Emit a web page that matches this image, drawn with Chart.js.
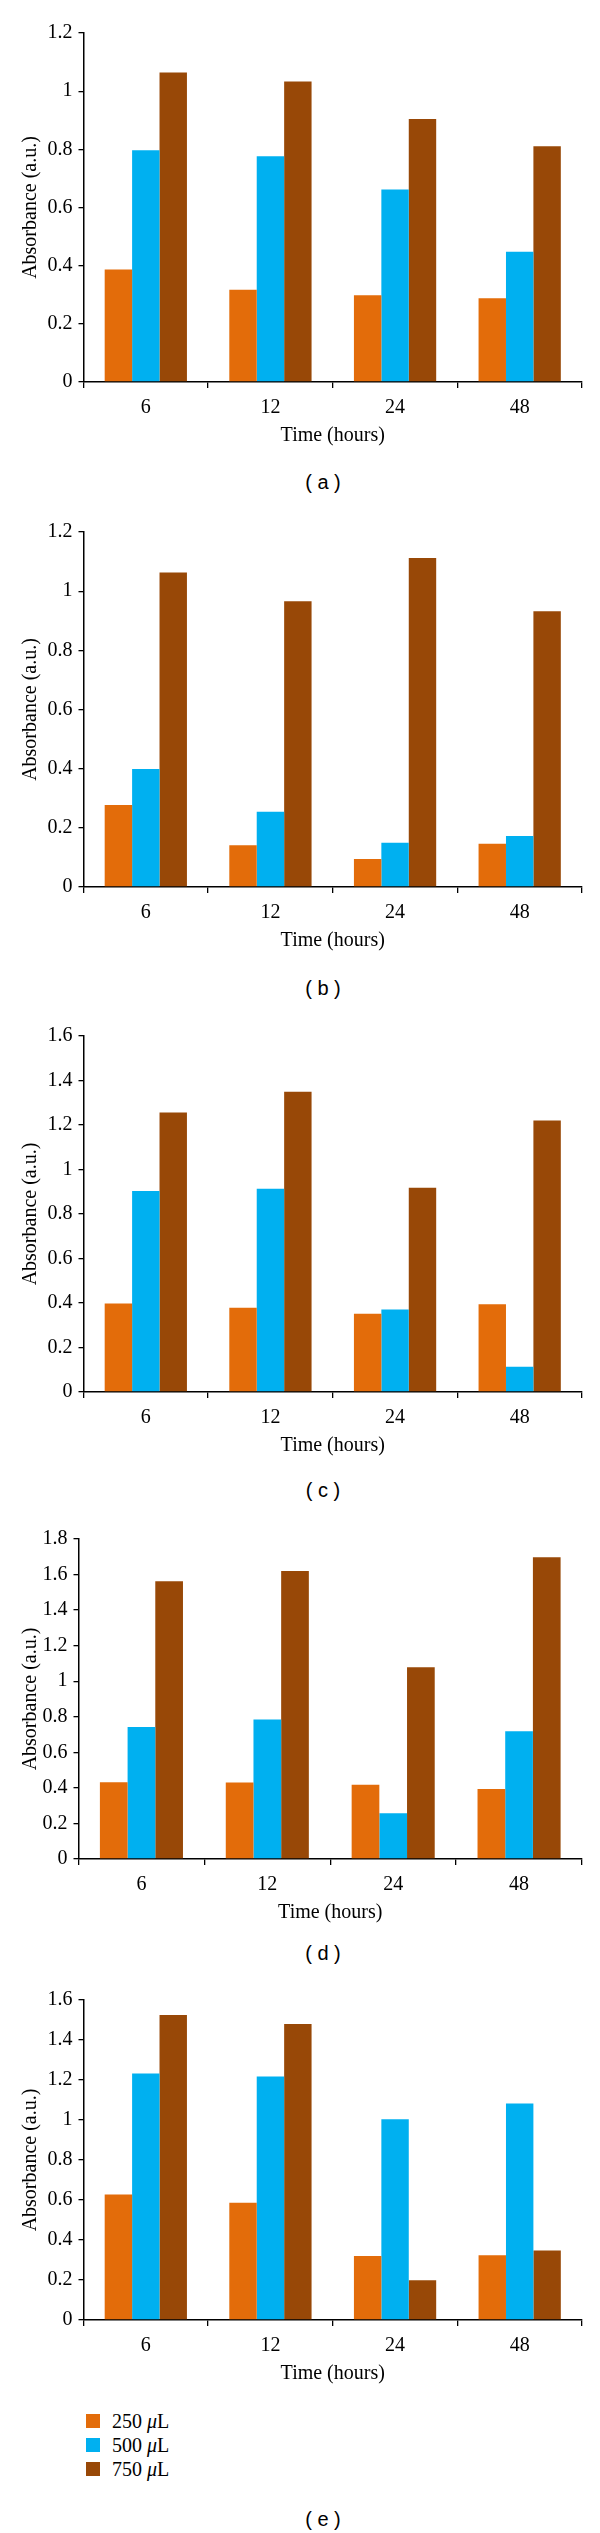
<!DOCTYPE html>
<html lang="en">
<head>
<meta charset="UTF-8">
<title>Absorbance vs time</title>
<script src="https://cdn.jsdelivr.net/npm/chart.js"></script>
<style>
body {
  margin: 0; padding: 0;
  background: #fff;
  width: 600px; height: 2533px;
  position: relative;
  overflow: hidden;
}
.panel { position: absolute; left: 0; width: 600px; }
.caption {
  position: absolute; left: 273px; width: 100px;
  text-align: center;
  font-family: 'Liberation Sans', sans-serif;
  font-size: 20px; color: #000;
  line-height: 24px;
  white-space: pre;
}
#legend { position: absolute; left: 86px; top: 2409px; }
.legend-row {
  height: 24px; display: flex; align-items: center;
  font-family: 'Liberation Serif', serif; font-size: 20px; color: #000;
}
.legend-row span.box { width: 14px; height: 14px; margin-right: 12px; display: inline-block; }
</style>
</head>
<body>

<script>
// categories + series
const categories = ['6', '12', '24', '48'];
const seriesLabels = ['250 μL', '500 μL', '750 μL'];
const seriesColors = ['#E36C0A', '#00B0F0', '#984807'];

// (a)
const a250 = [0.387, 0.317, 0.298, 0.288];
const a500 = [0.797, 0.776, 0.662, 0.448];
const a750 = [1.064, 1.033, 0.904, 0.811];
// (b)
const b250 = [0.277, 0.141, 0.095, 0.146];
const b500 = [0.399, 0.254, 0.150, 0.172];
const b750 = [1.063, 0.966, 1.112, 0.932];
// (c)
const c250 = [0.398, 0.379, 0.352, 0.394];
const c500 = [0.903, 0.913, 0.371, 0.114];
const c750 = [1.256, 1.349, 0.918, 1.220];
// (d)
const d250 = [0.432, 0.430, 0.417, 0.394];
const d500 = [0.743, 0.785, 0.257, 0.719];
const d750 = [1.562, 1.620, 1.079, 1.697];
// (e)
const e250 = [0.627, 0.586, 0.320, 0.324];
const e500 = [1.233, 1.218, 1.004, 1.083];
const e750 = [1.525, 1.480, 0.199, 0.347];

// y axis ranges (tick step 0.2)
const yMax = [1.2, 1.2, 1.6, 1.8, 1.6];
const yStep = 0.2;
const xTitle = 'Time (hours)';
const yTitle = 'Absorbance (a.u.)';
const panelNames = ['a', 'b', 'c', 'd', 'e'];

// page layout: plot top / bottom, axis left, caption centre
const layout = [
  { top: 33,   bottom: 382,  left: 83.5, cap: 482 },
  { top: 532,  bottom: 887,  left: 83.5, cap: 988 },
  { top: 1036, bottom: 1392, left: 83.5, cap: 1490 },
  { top: 1539, bottom: 1859, left: 78.5, cap: 1953 },
  { top: 2000, bottom: 2320, left: 83.5, cap: 2519 }
];

const allData = [
  [a250, a500, a750],
  [b250, b500, b750],
  [c250, c500, c750],
  [d250, d500, d750],
  [e250, e500, e750]
];

const PAD_TOP = 20, X_H = 70, PLOT_RIGHT = 582;
const serif = { family: "'Liberation Serif', serif", size: 20 };

allData.forEach((series, i) => {
  const L = layout[i];
  const div = document.createElement('div');
  div.className = 'panel';
  const h = L.bottom - L.top + PAD_TOP + X_H;
  div.style.top = (L.top - PAD_TOP) + 'px';
  div.style.height = h + 'px';
  const cv = document.createElement('canvas');
  cv.width = 600; cv.height = h;
  div.appendChild(cv);
  document.body.appendChild(div);

  const cap = document.createElement('div');
  cap.className = 'caption';
  cap.style.top = (L.cap - 12) + 'px';
  cap.textContent = '( ' + panelNames[i] + ' )';
  document.body.appendChild(cap);

  new Chart(cv, {
    type: 'bar',
    data: {
      labels: categories,
      datasets: series.map((d, k) => ({
        label: seriesLabels[k],
        data: d,
        backgroundColor: seriesColors[k],
        borderWidth: 0
      }))
    },
    options: {
      responsive: false,
      animation: false,
      devicePixelRatio: 1,
      datasets: { bar: { categoryPercentage: 0.66, barPercentage: 1 } },
      layout: { padding: { top: PAD_TOP, right: 600 - PLOT_RIGHT, bottom: 0, left: 0 } },
      plugins: { legend: { display: false }, tooltip: { enabled: false } },
      scales: {
        x: {
          grid: { display: true, drawOnChartArea: false, offset: true, tickLength: 6, color: '#000', lineWidth: 1.3 },
          border: { color: '#000', width: 1.5 },
          ticks: { font: serif, color: '#000', padding: 8 },
          title: { display: true, text: xTitle, font: serif, color: '#000', padding: { top: 0, bottom: 4 } },
          afterFit: s => { s.height = X_H; }
        },
        y: {
          min: 0, max: yMax[i],
          grid: { display: true, drawOnChartArea: false, tickLength: 5, color: '#000', lineWidth: 1.3 },
          border: { color: '#000', width: 1.5 },
          ticks: { stepSize: yStep, font: serif, color: '#000', padding: 6,
                   callback: v => String(+v.toFixed(1)) },
          title: { display: true, text: yTitle, font: serif, color: '#000', padding: { top: 19, bottom: 0 } },
          afterFit: s => { s.width = L.left; }
        }
      }
    }
  });
});

// legend under panel (e)
const legend = document.createElement('div');
legend.id = 'legend';
seriesLabels.forEach((lab, k) => {
  const row = document.createElement('div');
  row.className = 'legend-row';
  const num = lab.split(' ')[0];
  row.innerHTML = '<span class="box" style="background:' + seriesColors[k] + '"></span>' +
    num + '&nbsp;<i>μ</i>L';
  legend.appendChild(row);
});
document.body.appendChild(legend);
</script>
</body>
</html>
